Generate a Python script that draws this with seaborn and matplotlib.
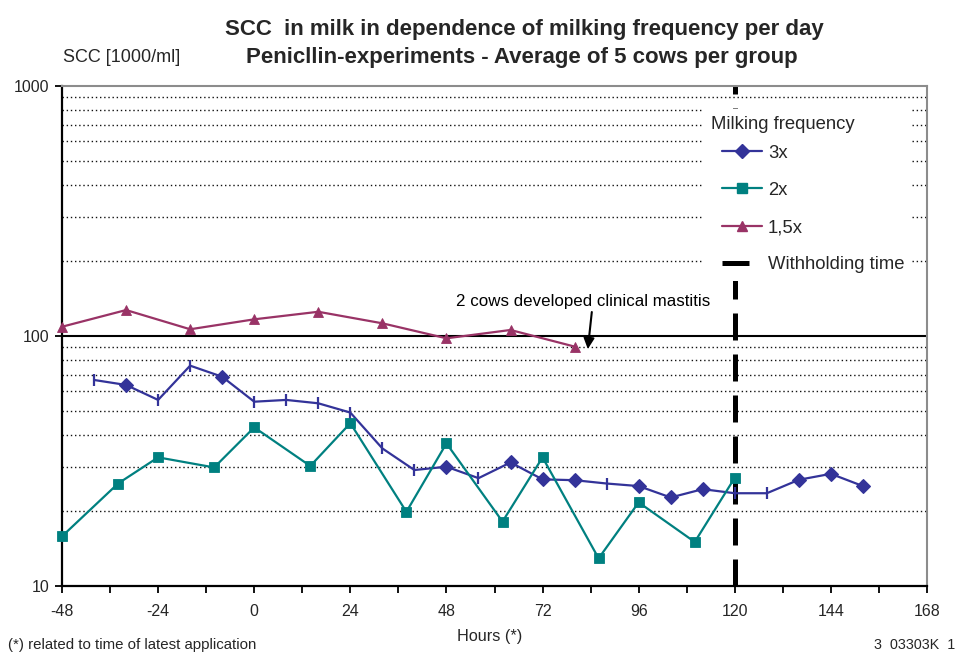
import matplotlib
matplotlib.use("Agg")
import matplotlib.pyplot as plt
from matplotlib.lines import Line2D
from matplotlib.legend_handler import HandlerLine2D
from matplotlib.ticker import NullLocator
import pandas as pd
import seaborn as sns

# SCC (1000/ml) per sampling hour, relative to the latest application
hours_3x = [-40, -32, -24, -16, -8, 0, 8, 16, 24, 32, 40, 48, 56, 64, 72, 80, 88,
            96, 104, 112, 120, 128, 136, 144, 152]
scc_3x = [66.7, 63.7, 55.5, 76.1, 68.7, 54.6, 55.5, 53.8, 49.4, 35.5, 29.1, 30.0, 27.0,
          31.2, 26.7, 26.5, 25.7, 25.1, 22.6, 24.4, 23.5, 23.5, 26.6, 28.1, 25.1]
# samples of the 3x group drawn with a diamond marker
diamond_hours_3x = [-32, -8, 48, 64, 72, 80, 96, 104, 112, 136, 144, 152]

hours_2x = [-48, -34, -24, -10, 0, 14, 24, 38, 48, 62, 72, 86, 96, 110, 120]
scc_2x = [15.8, 25.7, 32.7, 29.8, 43.1, 30.2, 44.8, 19.8, 37.2, 18.1, 32.7, 12.9,
          21.6, 15.0, 27.1]

hours_15x = [-48, -32, -16, 0, 16, 32, 48, 64, 80]
scc_15x = [108.9, 127.0, 106.4, 116.6, 125.0, 112.4, 97.9, 105.7, 90.7]

withholding_hour = 120
x_ticks = list(range(-48, 169, 24))
x_minor_ticks = list(range(-36, 169, 24))
y_ticks = [10, 100, 1000]
grid_values = [k * 10 ** d for d in (1, 2) for k in range(2, 10)]

series_labels = ["3x", "2x", "1,5x", "Withholding time"]
legend_title = "Milking frequency"
note_text = "2 cows developed clinical mastitis"
note_pos = (82.1, 136.8)
note_arrow_start = (84.3, 124.7)
note_arrow_tip = (83.3, 88.7)

C3, C2, C15 = "#333399", "#008080", "#993366"

sns.set_theme(style="white")
plt.rcParams["font.family"] = ["Liberation Sans", "DejaVu Sans"]

fig = plt.figure(figsize=(9.58, 6.52), dpi=100)
ax = fig.add_axes([62 / 958, 66 / 652, 865 / 958, 500 / 652])
ax.set_yscale("log")

# horizontal reference lines
for v in grid_values:
    ax.axhline(v, color="#111111", lw=1.0, ls=(0, (1, 2)), zorder=1)
ax.axhline(100, color="black", lw=1.5, zorder=1.5)

# withholding time marker
wh_dashes = (5.4, 2.8)
ax.axvline(withholding_hour, color="black", lw=3.6, dashes=wh_dashes, zorder=2)

# 3x group: line with bar ticks, diamonds on selected samples
df3 = pd.DataFrame({"hours": hours_3x, "scc": scc_3x})
sns.lineplot(data=df3, x="hours", y="scc", ax=ax, color=C3, lw=1.6, marker="|",
             markersize=9, markeredgewidth=1.6, markeredgecolor=C3, zorder=4)
dd = df3[df3["hours"].isin(diamond_hours_3x)]
sns.lineplot(data=dd, x="hours", y="scc", ax=ax, color=C3, lw=0, marker="D",
             markersize=6.8, markeredgewidth=0.8, markeredgecolor=C3, zorder=5)

# 2x group
sns.lineplot(x=hours_2x, y=scc_2x, ax=ax, color=C2, lw=1.6, marker="s",
             markersize=7, markeredgewidth=0.6, markeredgecolor=C2, zorder=4,
             clip_on=False)

# 1,5x group
sns.lineplot(x=hours_15x, y=scc_15x, ax=ax, color=C15, lw=1.6, marker="^",
             markersize=7.5, markeredgewidth=0.6, markeredgecolor=C15, zorder=4,
             clip_on=False)

ax.set_xlim(-48, 168)
ax.set_ylim(10, 1000)
ax.set_xticks(x_ticks)
ax.set_xticks(x_minor_ticks, minor=True)
ax.set_xticklabels([str(t) for t in x_ticks])
ax.set_yticks(y_ticks)
ax.set_yticklabels([str(t) for t in y_ticks])
ax.yaxis.set_minor_locator(NullLocator())
ax.tick_params(axis="x", which="both", direction="out", length=5, width=1.3,
               color="black", labelsize=11.5, pad=8, bottom=True)
ax.tick_params(axis="y", which="major", direction="out", length=5, width=1.3,
               color="black", labelsize=11.5, pad=4, left=True)
ax.set_xlabel("")
ax.set_ylabel("")

for side in ("left", "bottom"):
    ax.spines[side].set_color("black")
    ax.spines[side].set_linewidth(1.6)
for side in ("top", "right"):
    ax.spines[side].set_color("#8c8c8c")
    ax.spines[side].set_linewidth(1.5)

# annotation
ax.text(*note_pos, note_text, ha="center", va="center", fontsize=12.2, color="black")
ax.annotate("", xy=note_arrow_tip, xytext=note_arrow_start,
            arrowprops=dict(arrowstyle="-|>", color="black", lw=1.5,
                            mutation_scale=16, shrinkA=0, shrinkB=0))

# legend: handles indented under the title
handles = [
    Line2D([], [], color=C3, lw=1.6, marker="D", markersize=6.8, markeredgecolor=C3),
    Line2D([], [], color=C2, lw=1.6, marker="s", markersize=7, markeredgecolor=C2),
    Line2D([], [], color=C15, lw=1.6, marker="^", markersize=7.5, markeredgecolor=C15),
    Line2D([], [], color="black", lw=3.6, dashes=wh_dashes),
]
leg = ax.legend(handles, series_labels, title=legend_title, loc="upper left",
                bbox_to_anchor=(0.742, 0.954), frameon=True, fancybox=False,
                edgecolor="none", facecolor="white", framealpha=1, fontsize=13.3,
                title_fontsize=13.3, handlelength=2.76, handletextpad=0.3,
                labelspacing=1.1, borderpad=0.4, borderaxespad=0,
                alignment="left",
                handler_map={Line2D: HandlerLine2D(xpad=0.6)})
leg._legend_box.sep = 8
leg.set_zorder(6)

# titles and footnotes
fig.text(524 / 958, 1 - 30 / 652, "SCC  in milk in dependence of milking frequency per day",
         ha="center", va="center", fontsize=16, fontweight="bold")
fig.text(522 / 958, 1 - 57 / 652, "Penicllin-experiments - Average of 5 cows per group",
         ha="center", va="center", fontsize=16, fontweight="bold")
fig.text(122 / 958, 1 - 58 / 652, "SCC [1000/ml]", ha="center", va="center", fontsize=13)
fig.text(490 / 958, 1 - 637 / 652, "Hours (*)", ha="center", va="center", fontsize=11.7)
fig.text(8 / 958, 1 - 645 / 652, "(*) related to time of latest application",
         ha="left", va="center", fontsize=10.8)
fig.text(955 / 958, 1 - 645 / 652, "3  03303K  1", ha="right", va="center", fontsize=10.3)

fig.savefig("out.png", dpi=100, facecolor="white")
